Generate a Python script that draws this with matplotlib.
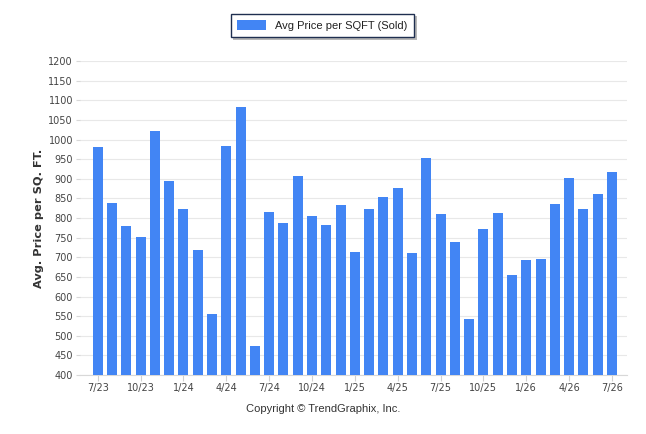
import numpy as np
import matplotlib.pyplot as plt
from matplotlib.patches import Patch

months = ['7/23', '8/23', '9/23', '10/23', '11/23', '12/23', '1/24', '2/24', '3/24',
          '4/24', '5/24', '6/24', '7/24', '8/24', '9/24', '10/24', '11/24', '12/24',
          '1/25', '2/25', '3/25', '4/25', '5/25', '6/25', '7/25', '8/25', '9/25',
          '10/25', '11/25', '12/25', '1/26', '2/26', '3/26', '4/26', '5/26', '6/26', '7/26']
price_sqft = [981, 838, 780, 752, 1022, 894, 823, 718, 555, 984, 1083, 474, 815,
              787, 907, 805, 782, 833, 713, 823, 854, 876, 711, 953, 810, 739, 543,
              772, 813, 655, 693, 696, 836, 902, 823, 861, 917]
yticks = list(range(400, 1201, 50))

bar_color = '#4285f4'
text_color = '#444444'

fig = plt.figure(figsize=(6.46, 4.34), dpi=100)
ax = fig.add_axes([0.1238, 0.1359, 0.8468, 0.7235])

x = np.arange(len(months))
ax.bar(x, price_sqft, width=0.7, color=bar_color, zorder=3)

ax.set_ylim(400, 1200)
ax.set_xlim(-1.24, len(months) - 1 + 1.05)
ax.set_yticks(yticks)
ax.set_yticklabels([str(v) for v in yticks], fontsize=7, color=text_color)
ax.set_xticks(x[::3])
ax.set_xticklabels(months[::3], fontsize=7, color=text_color)
ax.grid(axis='y', color='#e8e8e8', linewidth=0.8, zorder=0)

for side in ['top', 'right', 'left']:
    ax.spines[side].set_visible(False)
ax.spines['bottom'].set_color('#d8d8d8')
ax.tick_params(axis='y', length=3, color='#d8d8d8', pad=2)
ax.tick_params(axis='x', length=4, color='#d0d0d0', pad=2)

ax.set_ylabel('Avg. Price per SQ. FT.', fontsize=8.2, fontweight='bold',
              color='#333333')
ax.yaxis.set_label_coords(-0.066, 0.5)

fig.text(0.5, 0.058, 'Copyright \u00a9 TrendGraphix, Inc.', ha='center', va='center',
         fontsize=8, color='#333333', family='Liberation Sans')

handle = Patch(facecolor=bar_color, edgecolor='none')
leg = fig.legend([handle], ['Avg Price per SQFT (Sold)'], loc='center',
                 bbox_to_anchor=(0.499, 0.941), frameon=True,
                 fancybox=False, shadow={'facecolor': '#b8b8b8', 'edgecolor': 'none', 'alpha': 1},
                 handlelength=2.6, handleheight=0.9,
                 borderpad=0.6, prop={'family': 'Liberation Sans', 'size': 8})
leg.get_frame().set_edgecolor('#1f2f50')
leg.get_frame().set_linewidth(1.0)
for t in leg.get_texts():
    t.set_color('#222222')

fig.savefig('out.png', dpi=100)
